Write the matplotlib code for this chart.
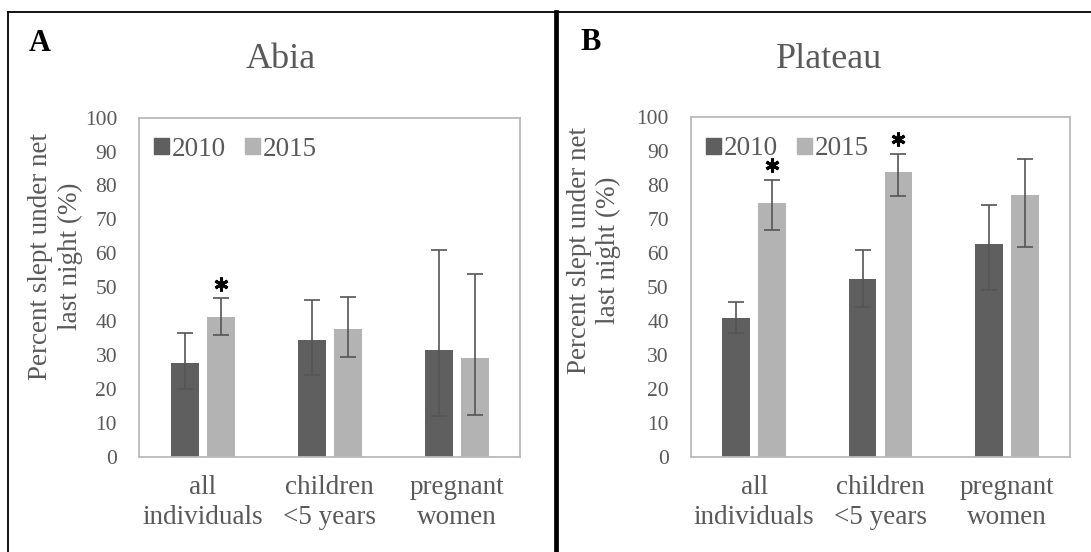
import matplotlib.pyplot as plt
from matplotlib.patches import Patch
from matplotlib.lines import Line2D
import numpy as np

plt.rcParams['font.family'] = ['Liberation Serif', 'DejaVu Serif']

categories = ['all\nindividuals', 'children\n<5 years', 'pregnant\nwomen']
years = ['2010', '2015']

# Abia: percent, lower / upper bounds of error bars
abia_2010 = [27.5, 34.4, 31.6]
abia_2010_lo = [20.1, 24.1, 12.1]
abia_2010_hi = [36.6, 46.2, 60.9]
abia_2015 = [41.1, 37.8, 29.0]
abia_2015_lo = [36.0, 29.4, 12.4]
abia_2015_hi = [46.7, 47.1, 54.0]
abia_sig = [True, False, False]

# Plateau
plateau_2010 = [40.9, 52.4, 62.7]
plateau_2010_lo = [36.4, 44.2, 49.2]
plateau_2010_hi = [45.7, 61.0, 74.2]
plateau_2015 = [74.7, 84.0, 77.1]
plateau_2015_lo = [66.7, 76.7, 61.7]
plateau_2015_hi = [81.6, 89.3, 87.7]
plateau_sig = [True, True, False]

dark = '#5f5f5f'
light = '#b3b3b3'
txt = '#595959'

W, H = 1091, 552
fig = plt.figure(figsize=(W / 100, H / 100), dpi=100)


def box(l, r, t, b):
    return [l / W, 1 - b / H, (r - l) / W, (b - t) / H]


def panel(rect, v1, lo1, hi1, v2, lo2, hi2, sig):
    ax = fig.add_axes(rect)
    x = np.arange(len(categories))
    v1, v2 = np.array(v1), np.array(v2)
    off, w = 0.142, 0.22
    ax.bar(x - off, v1, w, color=dark, zorder=2)
    ax.bar(x + off, v2, w, color=light, zorder=2)
    ax.errorbar(x - off, v1, yerr=[v1 - np.array(lo1), np.array(hi1) - v1], fmt='none',
                ecolor='#555555', elinewidth=1.2, capsize=6, capthick=1.2, zorder=3)
    ax.errorbar(x + off, v2, yerr=[v2 - np.array(lo2), np.array(hi2) - v2], fmt='none',
                ecolor='#555555', elinewidth=1.2, capsize=6, capthick=1.2, zorder=3)
    # significance asterisks
    for i, s in enumerate(sig):
        if s:
            ax.plot(x[i] + off, hi2[i] + 4.2, marker=(6, 2, 0), ms=10, mew=2.2,
                    color='black', clip_on=False, zorder=4)
    ax.set_xlim(-0.5, 2.5)
    ax.set_ylim(0, 100)
    ax.set_yticks(range(0, 101, 10))
    ax.set_xticks(x)
    ax.set_xticklabels(categories, fontsize=19.5, color=txt, linespacing=1.25)
    ax.tick_params(axis='y', length=0, pad=16, labelsize=15.5, labelcolor=txt)
    ax.tick_params(axis='x', length=0, pad=13)
    for sp in ax.spines.values():
        sp.set_color('#bcb9b9')
        sp.set_linewidth(1.3)
    handles = [Patch(color=dark), Patch(color=light)]
    ax.legend(handles, years, loc='upper left', bbox_to_anchor=(-0.01, 1.0), ncol=2,
              frameon=False, fontsize=19.5, handlelength=0.55, handleheight=0.55,
              handletextpad=0.1, columnspacing=0.7, labelcolor=txt, borderaxespad=0.3)
    return ax


panel(box(139.3, 520.3, 117.7, 456.7), abia_2010, abia_2010_lo, abia_2010_hi,
      abia_2015, abia_2015_lo, abia_2015_hi, abia_sig)
panel(box(691, 1070, 117.3, 456.7), plateau_2010, plateau_2010_lo, plateau_2010_hi,
      plateau_2015, plateau_2015_lo, plateau_2015_hi, plateau_sig)

ylab = 'Percent slept under net\nlast night (%)'
fig.text(55.5 / W, 1 - 256 / H, ylab, rotation=90, ha='center', va='center',
         fontsize=19.5, color=txt, multialignment='center', linespacing=1.25)
fig.text(594 / W, 1 - 250 / H, ylab, rotation=90, ha='center', va='center',
         fontsize=19.5, color=txt, multialignment='center', linespacing=1.25)

fig.text(281 / W, 1 - 59 / H, 'Abia', ha='center', va='center', fontsize=26, color=txt)
fig.text(829 / W, 1 - 59 / H, 'Plateau', ha='center', va='center', fontsize=26, color=txt)
fig.text(29 / W, 1 - 51 / H, 'A', ha='left', va='baseline', fontsize=22, fontweight='bold')
fig.text(580 / W, 1 - 50 / H, 'B', ha='left', va='baseline', fontsize=22, fontweight='bold')

# panel borders
fig.add_artist(Line2D([7.8 / W, 7.8 / W], [0, 1 - 11.8 / H], color='black', lw=1.3))
fig.add_artist(Line2D([7.8 / W, 1], [1 - 11.8 / H, 1 - 11.8 / H], color='black', lw=1.3))
fig.add_artist(Line2D([556.3 / W, 556.3 / W], [0, 1 - 11.8 / H], color='black', lw=3.4))

plt.savefig('out.png', dpi=100)
